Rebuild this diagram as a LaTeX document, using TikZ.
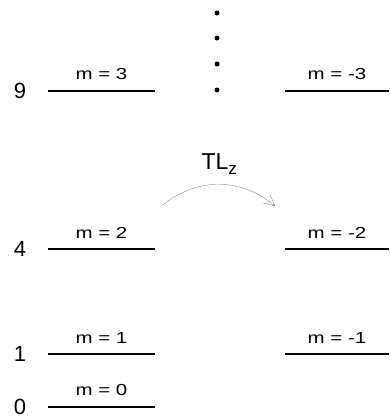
\documentclass[tikz,border=0pt]{standalone}
\usepackage{fontspec}
\setmainfont{Liberation Sans}
\usetikzlibrary{arrows.meta}

\begin{document}
\begin{tikzpicture}[x=1pt, y=-1pt,
    level/.style={line width=1.2pt},
    mlabel/.style={above=7pt, font=\fontsize{16}{19}\selectfont},
    energy/.style={font=\fontsize{22}{25}\selectfont}]
    \useasboundingbox (0,0) rectangle (389,418);
    % m >= 0 levels with energies
    \foreach \y/\e/\m in {91/9/3, 249/4/2, 354/1/1, 407/0/0} {
        \coordinate (la\m) at (48,\y);
        \coordinate (lb\m) at (155,\y);
        \draw[level] (la\m) -- (lb\m) node[midway, mlabel] (ml\m) {\scalebox{1.28}[1]{m = \m}};
        \node[energy] (e\m) at (20,\y) {\e};
    }
    % m < 0 levels
    \foreach \y/\m in {91/3, 249/2, 354/1} {
        \coordinate (ra\m) at (285,\y);
        \coordinate (rb\m) at (389,\y);
        \draw[level] (ra\m) -- (rb\m) node[midway, mlabel] (mr\m) {\scalebox{1.28}[1]{m = -\m}};
    }
    \foreach \y in {13,38,64,90} {
        \fill (217,\y) circle (2.5);
    }
    \coordinate (from) at (163,205);
    \coordinate (to) at (275,206);
    \draw[gray!60!black, very thin, -{Straight Barb[length=11pt, width=11pt]}]
        (from) to[bend left=40] node[midway, above=6pt, text=black, font=\fontsize{23}{26}\selectfont] (tlz)
        {TL\raisebox{-0.25em}{\fontsize{17}{20}\selectfont z}} (to);
\end{tikzpicture}
\end{document}
